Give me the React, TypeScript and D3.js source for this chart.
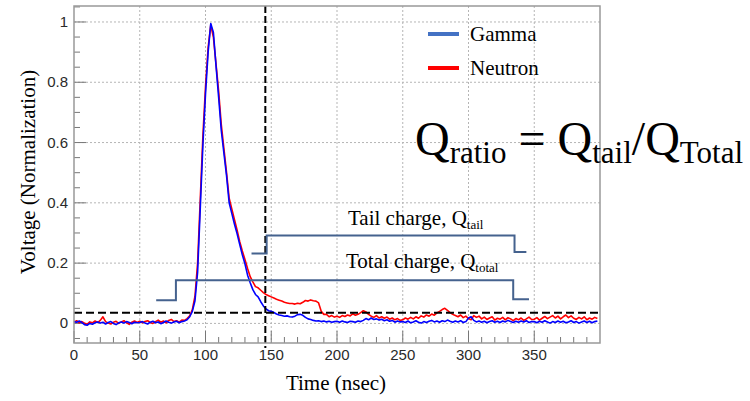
import React from 'react';
import * as d3 from 'd3';

// sampling times (nsec), one row = 50 ns
const timeNs = [
  0, 2, 4, 6, 8, 10, 12, 14, 16, 18, 20, 22, 24, 26, 28, 30, 32, 34, 36, 38, 40, 42, 44, 46, 48,
  50, 52, 54, 56, 58, 60, 62, 64, 66, 68, 70, 72, 74, 76, 78, 80, 82, 84, 86, 88, 90, 92, 94, 96, 98,
  100, 102, 104, 106, 108, 110, 112, 114, 116, 118, 120, 122, 124, 126, 128, 130, 132, 134, 136, 138, 140, 142, 144, 146, 148,
  150, 152, 154, 156, 158, 160, 162, 164, 166, 168, 170, 172, 174, 176, 178, 180, 182, 184, 186, 188, 190, 192, 194, 196, 198,
  200, 202, 204, 206, 208, 210, 212, 214, 216, 218, 220, 222, 224, 226, 228, 230, 232, 234, 236, 238, 240, 242, 244, 246, 248,
  250, 252, 254, 256, 258, 260, 262, 264, 266, 268, 270, 272, 274, 276, 278, 280, 282, 284, 286, 288, 290, 292, 294, 296, 298,
  300, 302, 304, 306, 308, 310, 312, 314, 316, 318, 320, 322, 324, 326, 328, 330, 332, 334, 336, 338, 340, 342, 344, 346, 348,
  350, 352, 354, 356, 358, 360, 362, 364, 366, 368, 370, 372, 374, 376, 378, 380, 382, 384, 386, 388, 390, 392, 394, 396, 398,
];

const gamma = [
  0.006, 0.004, 0.008, 0.003, -0.004, -0.006, 0.000, -0.003, 0.002, 0.005, 0.001, 0.004, -0.002, 0.003, 0.006, 0.000, -0.004, 0.002, 0.005, 0.001, 0.006, 0.003, -0.001, 0.004, 0.002,
  0.003, 0.006, 0.001, -0.002, 0.004, 0.007, 0.002, 0.005, -0.001, 0.003, 0.008, 0.004, 0.001, 0.005, 0.007, 0.002, 0.006, 0.008, 0.012, 0.022, 0.040, 0.075, 0.170, 0.380, 0.590,
  0.760, 0.900, 0.995, 0.965, 0.855, 0.750, 0.640, 0.565, 0.490, 0.400, 0.365, 0.330, 0.298, 0.262, 0.228, 0.198, 0.160, 0.135, 0.112, 0.096, 0.088, 0.072, 0.058, 0.048, 0.042,
  0.040, 0.036, 0.031, 0.028, 0.026, 0.024, 0.025, 0.022, 0.021, 0.024, 0.029, 0.030, 0.027, 0.020, 0.015, 0.013, 0.010, 0.008, 0.009, 0.006, 0.008, 0.005, 0.007, 0.004, 0.006,
  0.007, 0.004, 0.008, 0.005, 0.003, 0.007, 0.006, 0.004, 0.008, 0.006, 0.010, 0.016, 0.012, 0.018, 0.013, 0.015, 0.011, 0.014, 0.009, 0.012, 0.007, 0.010, 0.004, 0.008, 0.005,
  0.006, 0.003, 0.008, 0.002, 0.005, 0.009, 0.004, 0.001, 0.006, 0.003, 0.007, 0.010, 0.005, 0.008, 0.004, 0.009, 0.006, 0.011, 0.007, 0.004, 0.008, 0.005, 0.009, 0.003, 0.006,
  0.018, 0.022, 0.010, 0.005, 0.008, 0.004, 0.007, 0.002, 0.006, 0.009, 0.004, 0.007, 0.003, 0.008, 0.005, 0.010, 0.006, 0.003, 0.007, 0.004, 0.008, 0.005, 0.009, 0.003, 0.006,
  0.006, 0.002, 0.007, 0.004, 0.009, 0.005, 0.001, 0.006, 0.003, 0.008, 0.004, 0.007, 0.002, 0.005, 0.009, 0.003, 0.006, 0.001, 0.005, 0.008, 0.003, 0.007, 0.002, 0.006, 0.008,
];

const neutron = [
  0.004, 0.009, 0.002, 0.006, 0.001, -0.003, 0.005, 0.002, 0.008, 0.003, 0.010, 0.022, 0.006, 0.001, -0.002, 0.004, 0.007, 0.000, 0.005, 0.009, 0.002, -0.003, 0.004, 0.008, 0.003,
  0.007, 0.002, 0.006, 0.009, 0.003, 0.000, 0.006, 0.011, 0.004, 0.008, 0.002, 0.010, 0.013, 0.006, 0.009, 0.004, 0.011, 0.010, 0.016, 0.025, 0.046, 0.090, 0.200, 0.410, 0.620,
  0.785, 0.915, 0.990, 0.950, 0.860, 0.770, 0.660, 0.580, 0.500, 0.415, 0.380, 0.345, 0.310, 0.272, 0.240, 0.212, 0.182, 0.155, 0.138, 0.122, 0.118, 0.110, 0.102, 0.096, 0.092,
  0.088, 0.084, 0.080, 0.077, 0.074, 0.070, 0.068, 0.066, 0.066, 0.064, 0.067, 0.065, 0.070, 0.076, 0.074, 0.078, 0.075, 0.074, 0.068, 0.040, 0.030, 0.030, 0.022, 0.026, 0.021,
  0.024, 0.020, 0.026, 0.023, 0.028, 0.025, 0.032, 0.027, 0.030, 0.036, 0.042, 0.038, 0.030, 0.024, 0.020, 0.026, 0.018, 0.022, 0.017, 0.021, 0.014, 0.018, 0.012, 0.016, 0.010,
  0.012, 0.018, 0.014, 0.020, 0.015, 0.022, 0.017, 0.025, 0.021, 0.028, 0.024, 0.031, 0.027, 0.035, 0.040, 0.046, 0.050, 0.043, 0.036, 0.030, 0.026, 0.022, 0.028, 0.019, 0.024,
  0.016, 0.012, 0.026, 0.020, 0.024, 0.015, 0.021, 0.013, 0.018, 0.022, 0.011, 0.017, 0.014, 0.020, 0.012, 0.019, 0.015, 0.009, 0.016, 0.012, 0.018, 0.010, 0.015, 0.021, 0.013,
  0.014, 0.019, 0.011, 0.017, 0.023, 0.016, 0.021, 0.026, 0.018, 0.024, 0.015, 0.022, 0.028, 0.019, 0.025, 0.017, 0.013, 0.020, 0.015, 0.022, 0.012, 0.018, 0.014, 0.020, 0.016,
];

// integration gates
const totalGateT = [62.5, 77.5, 77.5, 334, 334, 346];
const totalGateV = [0.077, 0.077, 0.143, 0.143, 0.080, 0.080];
const tailGateT = [135, 146.5, 146.5, 335, 335, 344];
const tailGateV = [0.232, 0.232, 0.292, 0.292, 0.237, 0.237];

const thresholdV = 0.035;
const splitT = 145.5;

const xTicks = [0, 50, 100, 150, 200, 250, 300, 350];
const yTicks = [0, 0.2, 0.4, 0.6, 0.8, 1];
const yTickLabels = ['0', '0.2', '0.4', '0.6', '0.8', '1'];

const serif = '"Liberation Serif", "Times New Roman", serif';
const sans = '"Liberation Sans", Arial, sans-serif';

export default function App() {
  const width = 750;
  const height = 401;
  const left = 74, right = 600, top = 6, bottom = 343;

  const x = d3.scaleLinear().domain([0, 400]).range([left, right]);
  const y = d3.scaleLinear().domain([-0.065, 1.053]).range([bottom, top]);

  const line = d3.line<[number, number]>()
    .x(d => x(d[0]))
    .y(d => y(d[1]));

  const gammaPts = timeNs.map((t, i) => [t, gamma[i]] as [number, number]);
  const neutronPts = timeNs.map((t, i) => [t, neutron[i]] as [number, number]);
  const totalPts = totalGateT.map((t, i) => [t, totalGateV[i]] as [number, number]);
  const tailPts = tailGateT.map((t, i) => [t, tailGateV[i]] as [number, number]);

  const xMinor = d3.range(0, 400, 10);
  const yMinor = d3.range(-0.05, 1.06, 0.05);

  const gateColor = '#45628e';

  return (
    <svg width={width} height={height} style={{ position: 'absolute', left: 0, top: 0 }}>
      <rect x={0} y={0} width={width} height={height} fill="#fff" />

      {/* grid */}
      {xTicks.filter(t => t > 0).map(t => (
        <line key={'gx' + t} x1={x(t)} x2={x(t)} y1={top} y2={bottom}
          stroke="#b5b5b5" strokeWidth={1} strokeDasharray="2,2" />
      ))}
      {yTicks.map(v => (
        <line key={'gy' + v} x1={left} x2={right} y1={y(v)} y2={y(v)}
          stroke="#b5b5b5" strokeWidth={1} strokeDasharray="2,2" />
      ))}

      {/* ticks */}
      {xMinor.map(t => {
        const major = t % 50 === 0;
        return <line key={'tx' + t} x1={x(t)} x2={x(t)} y1={bottom} y2={bottom - (major ? 12 : 6)}
          stroke="#777" strokeWidth={1} />;
      })}
      {yMinor.map(v => {
        const major = Math.abs(v / 0.2 - Math.round(v / 0.2)) < 0.01;
        return <line key={'ty' + v.toFixed(2)} x1={left} x2={left + (major ? 12 : 6)} y1={y(v)} y2={y(v)}
          stroke="#777" strokeWidth={1} />;
      })}

      {/* tick labels */}
      {xTicks.map(t => (
        <text key={'lx' + t} x={x(t)} y={360} textAnchor="middle"
          fontFamily={sans} fontSize={15} fill="#2a2a2a">{t}</text>
      ))}
      {yTicks.map((v, i) => (
        <text key={'ly' + v} x={68} y={y(v) + 5} textAnchor="end"
          fontFamily={sans} fontSize={15} fill="#2a2a2a">{yTickLabels[i]}</text>
      ))}

      {/* axis titles */}
      <text x={336} y={390} textAnchor="middle" fontFamily={serif} fontSize={21}>Time (nsec)</text>
      <text transform={`translate(35,172) rotate(-90)`} textAnchor="middle" fontFamily={serif} fontSize={21}>
        Voltage (Normalization)
      </text>

      {/* waveforms */}
      <path d={line(neutronPts) || ''} fill="none" stroke="#ff0000" strokeWidth={1.6} strokeLinejoin="round" />
      <path d={line(gammaPts) || ''} fill="none" stroke="#0000ff" strokeWidth={1.6} strokeLinejoin="round" />

      {/* threshold and tail start */}
      <line x1={left} x2={right} y1={y(thresholdV)} y2={y(thresholdV)}
        stroke="#000" strokeWidth={2} strokeDasharray="8,4" />
      <line x1={x(splitT)} x2={x(splitT)} y1={top} y2={bottom + 5}
        stroke="#000" strokeWidth={2} strokeDasharray="7,3" />

      {/* gates */}
      <path d={line(totalPts) || ''} fill="none" stroke={gateColor} strokeWidth={2} />
      <path d={line(tailPts) || ''} fill="none" stroke={gateColor} strokeWidth={2} />

      <text x={348} y={225} fontFamily={serif} fontSize={21}>
        Tail charge, Q<tspan fontSize={13} dy={4}>tail</tspan>
      </text>
      <text x={346} y={268} fontFamily={serif} fontSize={21}>
        Total charge, Q<tspan fontSize={13} dy={4}>total</tspan>
      </text>

      {/* frame */}
      <rect x={left} y={top} width={right - left} height={bottom - top} fill="none" stroke="#999" strokeWidth={1.5} />

      {/* legend */}
      <line x1={428} x2={459} y1={34} y2={34} stroke="#4472c4" strokeWidth={4} />
      <text x={470} y={41} fontFamily={serif} fontSize={21}>Gamma</text>
      <line x1={428} x2={459} y1={68} y2={68} stroke="#ff0000" strokeWidth={4} />
      <text x={470} y={75} fontFamily={serif} fontSize={21}>Neutron</text>

      {/* formula */}
      <text x={415} y={155} fontFamily={serif} fontSize={48}>
        Q<tspan fontSize={31} dy={8}>ratio</tspan>
        <tspan dy={-8}> = Q</tspan>
        <tspan fontSize={31} dy={8}>tail</tspan>
        <tspan dy={-8}>/Q</tspan>
        <tspan fontSize={31} dy={8}>Total</tspan>
      </text>
    </svg>
  );
}
